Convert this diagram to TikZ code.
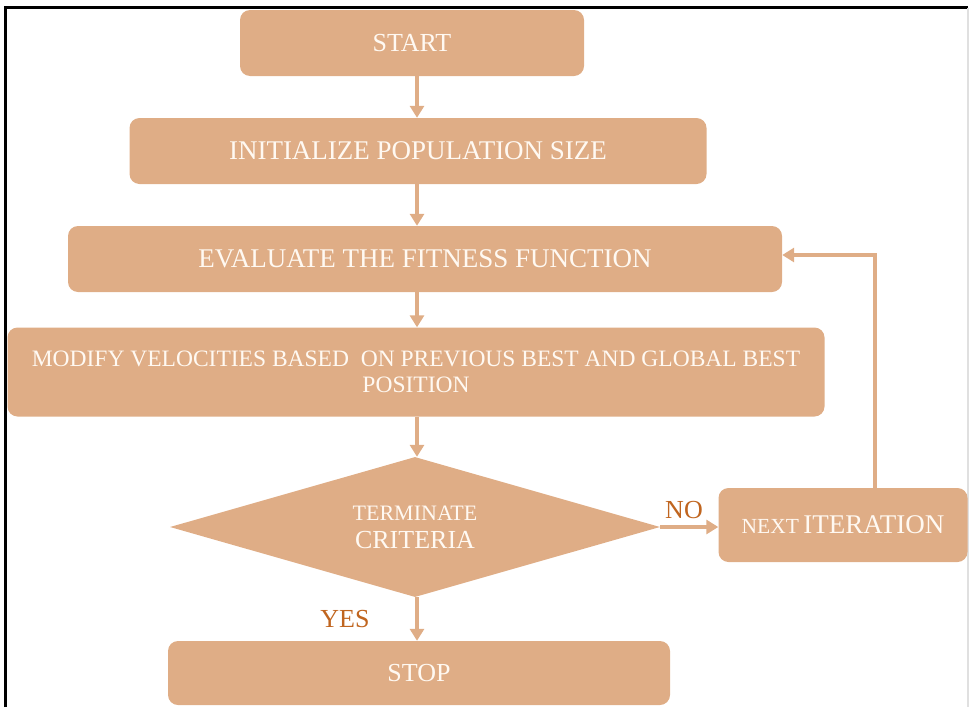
\documentclass[tikz,border=0pt]{standalone}
\usepackage{fontspec}
\setmainfont{Liberation Serif}
\usetikzlibrary{shapes.geometric}
\usetikzlibrary{positioning}
\usetikzlibrary{arrows.meta}
\definecolor{tan}{HTML}{DFAD86}
\definecolor{rust}{HTML}{C0651F}
\definecolor{cream}{HTML}{FFF9F2}

\begin{document}
\begin{tikzpicture}[x=1pt,y=-1pt,
        stepbox/.style={rectangle,rounded corners=10pt,fill=tan,text=cream,inner sep=0pt,
            font=\fontsize{26}{30}\selectfont},
        decide/.style={diamond,fill=tan,text=cream,inner sep=0pt,aspect=3.5,align=center},
        flow/.style={draw=tan,line width=4.5pt,arrows={-Triangle[length=12pt,width=14pt,fill=tan]}},
        answer/.style={text=rust,font=\fontsize{26}{30}\selectfont}]

            \useasboundingbox (0,0) rectangle (969,707);

            % frame
            \draw[line width=3pt] (5.5,707) -- (5.5,7.5) -- (968,7.5);
            \draw[black!12,line width=1.5pt] (968,7.5) -- (968,707);

            \path   (412,43)  node (start) [stepbox,minimum width=344pt,minimum height=66pt] {START}
                    (418,151) node (init)  [stepbox,minimum width=577pt,minimum height=66pt,
                        font=\fontsize{27}{30}\selectfont] {INITIALIZE POPULATION SIZE}
                    (425,259) node (eval)  [stepbox,minimum width=714pt,minimum height=66pt,
                        font=\fontsize{27}{30}\selectfont] {EVALUATE THE FITNESS FUNCTION}
                    (416,372) node (modify) [stepbox,minimum width=817pt,minimum height=89pt,align=center,
                        font=\fontsize{23.5}{26}\selectfont] {MODIFY VELOCITIES BASED\ \ ON PREVIOUS BEST AND GLOBAL BEST\\POSITION}
                    (415,527) node (term)  [decide,minimum width=490pt,minimum height=140pt,
                        font=\fontsize{22}{28}\selectfont]
                        {TERMINATE\\{\fontsize{26}{28}\selectfont CRITERIA}}
                    (843,525) node (next)  [stepbox,minimum width=249pt,minimum height=74pt,
                        font=\fontsize{27}{30}\selectfont]
                        {{\fontsize{21.5}{26}\selectfont NEXT}\,ITERATION}
                    (419,673) node (stop)  [stepbox,minimum width=502pt,minimum height=64pt] {STOP};

            \coordinate (spine) at (417,0);
            \coordinate (loop) at (875,255);

            \draw[flow] (start.south -| spine) -- (init.north -| spine);
            \draw[flow] (init.south -| spine) -- (eval.north -| spine);
            \draw[flow] (eval.south -| spine) -- (modify.north -| spine);
            \draw[flow] (modify.south -| spine) -- (term.north -| spine);
            \draw[flow] (term.south -| spine) -- (stop.north -| spine);
            \draw[flow] (term.east) -- (next.west |- term.east);
            \draw[flow] (next.north -| loop) -- (loop) -- (eval.east |- loop);

            \path   (684,510) node (no)  [answer] {NO}
                    (345,619) node (yes) [answer] {YES};

        \end{tikzpicture}
\end{document}
